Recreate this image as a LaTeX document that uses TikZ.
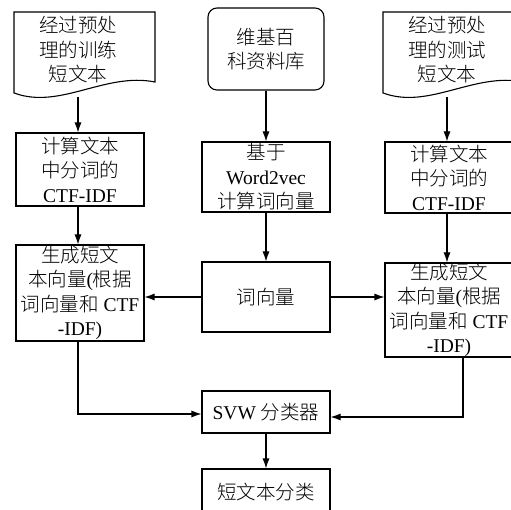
\documentclass[tikz,border=0pt]{standalone}
\usepackage{fontspec}
\setmainfont{Liberation Serif}
\newfontfamily\cjk{Noto Sans CJK SC Light}
\usetikzlibrary{arrows.meta}
\newcommand\zh[1]{{\cjk #1}}
\begin{document}
\begin{tikzpicture}[x=1pt,y=-1pt, line width=1.1pt,
  lbl/.style={inner sep=0pt, align=center, font=\fontsize{19.5}{24.5}\selectfont},
  box/.style={lbl, draw, minimum width=128pt},
  arr/.style={-{Latex[length=10pt,width=7pt]}}]
\useasboundingbox (0,0) rectangle (511,510);
\clip (0,0) rectangle (511,510);
% document shapes
\draw (14,12) -- (155,12) -- (155,82) .. controls (105,72) and (60,110) .. (14,93) -- cycle;
\draw (383,12) -- (524,12) -- (524,82) .. controls (474,72) and (429,110) .. (383,93) -- cycle;
\node[lbl] (ldoc) at (78,50) {\zh{经过预处}\\\zh{理的训练}\\\zh{短文本}};
\node[lbl] (rdoc) at (447,50) {\zh{经过预处}\\\zh{理的测试}\\\zh{短文本}};
\coordinate (ldocb) at (78,97);
\coordinate (rdocb) at (447,97);
\coordinate (rx) at (463,0);
% boxes
\node[box, minimum width=116pt, minimum height=82pt, rounded corners=9pt] (wiki) at (266,49) {\zh{维基百}\\\zh{科资料库}};
\node[box, minimum height=73pt] (lctf) at (80,169.5) {\zh{计算文本}\\\zh{中分词的}\\CTF-IDF};
\node[box, minimum height=70pt] (w2v) at (266,177) {\zh{基于}\\Word2vec\\\zh{计算词向量}};
\node[box, minimum height=71pt] (rctf) at (449,177.5) {\zh{计算文本}\\\zh{中分词的}\\CTF-IDF};
\node[box, minimum height=96pt] (lgen) at (80,293) {\zh{生成短文}\\\zh{本向量}(\zh{根据}\\\zh{词向量和} CTF\\-IDF)};
\node[box, minimum height=70pt] (cxl) at (266,297) {\zh{词向量}};
\node[box, minimum height=94pt] (rgen) at (449,310) {\zh{生成短文}\\\zh{本向量}(\zh{根据}\\\zh{词向量和} CTF\\-IDF)};
\node[box, minimum height=42pt] (svw) at (266,412) {SVW \zh{分类器}};
\node[box, minimum height=46pt] (res) at (266,492) {\zh{短文本分类}};
% connectors
\draw[arr] (ldocb) -- (lctf.north -| ldocb);
\draw[arr] (lctf.south -| ldocb) -- (lgen.north -| ldocb);
\draw[arr] (rdocb) -- (rctf.north -| rdocb);
\draw[arr] (rctf.south -| rdocb) -- (rgen.north -| rdocb);
\draw[arr] (wiki) -- (w2v);
\draw[arr] (w2v) -- (cxl);
\draw[arr] (cxl.west) -- (cxl.west -| lgen.east);
\draw[arr] (cxl.east) -- (cxl.east -| rgen.west);
\draw[arr] (lgen.south -| ldocb) |- ([yshift=-2pt]svw.west);
\draw[arr] (rgen.south -| rx) |- ([yshift=-5pt]svw.east);
\draw[arr] (svw) -- (res);
\end{tikzpicture}
\end{document}
